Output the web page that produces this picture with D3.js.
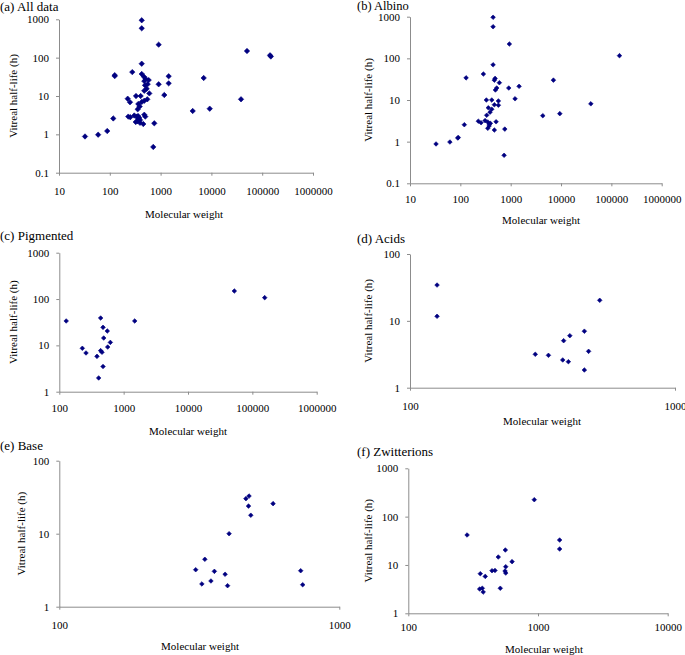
<!DOCTYPE html>
<html>
<head>
<meta charset="utf-8">
<script src="https://cdn.jsdelivr.net/npm/d3@7"></script>
<style>
  html, body { margin: 0; padding: 0; background: #fff; }
  svg { display: block; }
  text { font-family: "Liberation Serif", "Times New Roman", serif; fill: #000; }
</style>
</head>
<body>
<svg id="chart" width="685" height="655"></svg>
<script>
// ---------------- DATA ----------------
const panelTitles = ["(a) All data", "(b) Albino", "(c) Pigmented", "(d) Acids", "(e) Base", "(f) Zwitterions"];
const xAxisTitle = "Molecular weight";
const yAxisTitle = "Vitreal half-life (h)";

// (a) All data
const allMW = [32.5, 59, 89, 117, 125, 125, 277, 425, 425, 916, 425, 425, 471, 509, 583, 1442, 1442, 916, 493, 532, 477, 600, 1183, 328, 405, 225, 250, 547, 477, 425, 364, 387, 354, 231, 253, 303, 338, 364, 393, 324, 393, 456, 477, 500, 751, 717, 4285, 9270, 7050, 38300, 50200, 142600, 148000, 360, 380, 350, 478, 557];
const allHL = [0.88, 0.98, 1.22, 2.6, 33, 35, 42, 942, 582, 218, 69.5, 37.5, 31.8, 28, 26, 32.7, 21.4, 20.2, 19, 15.5, 13.7, 11.7, 10.6, 10, 10, 8.5, 6.9, 8.2, 7.5, 7.0, 6.2, 5.3, 4.5, 2.9, 2.8, 3.1, 2.9, 2.56, 2.37, 2.1, 2.0, 1.86, 3.25, 2.9, 1.94, 0.47, 4.07, 4.67, 29.5, 8.2, 149, 115, 107, 3.0, 2.7, 2.2, 24.5, 20.4];

// (b) Albino
const albMW = [32.9, 62, 89, 91, 120, 130, 287, 447, 447, 942, 447, 490, 474, 596, 1469, 916, 528, 497, 1222, 329, 421, 570, 570, 474, 360, 421, 389, 334, 228, 258, 310, 351, 373, 373, 351, 395, 513, 474, 764, 740, 4345, 9460, 7060, 39100, 145000];
const albHL = [0.88, 0.98, 1.22, 1.26, 2.55, 34, 42, 968, 575, 221, 70, 33, 30, 26, 21.3, 19.4, 19.4, 17.4, 10.7, 10, 10, 9.5, 7.5, 7.7, 6.5, 6.0, 5.1, 4.3, 3.1, 2.85, 3.2, 2.97, 2.65, 2.38, 2.09, 2.75, 3.0, 1.9, 2.0, 0.47, 4.2, 4.7, 30, 8.1, 116];

// (c) Pigmented
const pigMW = [128, 439, 1486, 478, 557, 490, 621, 565, 228, 260, 439, 461, 385, 478, 409, 52500, 155600];
const pigHL = [33.6, 38.9, 33.6, 24.5, 20.4, 14.4, 11.6, 9.2, 8.65, 6.85, 7.7, 7.1, 5.8, 3.5, 1.98, 149, 107];

// (d) Acids
const acidMW = [126.5, 126.5, 520, 455, 401, 380, 297, 333, 472, 377, 396, 455];
const acidHL = [34.3, 11.7, 20.3, 7.0, 6.0, 5.05, 3.16, 3.05, 3.5, 2.6, 2.45, 1.84];

// (e) Base
const baseMW = [476, 464, 474, 483, 580, 404, 331, 307, 358, 391, 323, 348, 399, 728, 740];
const baseHL = [32.8, 30.2, 23.9, 17.9, 25.8, 10, 4.46, 3.21, 3.05, 2.78, 2.05, 2.25, 1.94, 3.11, 2.0];

// (f) Zwitterions
const zwMW = [936, 284, 1468, 1468, 560, 494, 631, 564, 359, 392, 442, 466, 557, 564, 355, 372, 378, 512];
const zwHL = [224, 41.7, 32.8, 21.4, 20.4, 14.6, 11.7, 9.2, 6.6, 5.8, 7.6, 7.7, 7.5, 6.8, 3.18, 3.3, 2.75, 3.3];

// tick values
const xTicksA = [10, 100, 1000, 10000, 100000, 1000000];
const yTicksA = [0.1, 1, 10, 100, 1000];
const xTicksC = [100, 1000, 10000, 100000, 1000000];
const yTicksC = [1, 10, 100, 1000];
const xTicksD = [100, 1000];
const yTicksD = [1, 10, 100];
const xTicksF = [100, 1000, 10000];

// ---------------- LAYOUT ----------------
const panels = [
  { title: panelTitles[0], mw: allMW, hl: allHL, xt: xTicksA, yt: yTicksA,
    x0: 59, x1: 313, y0: 172.7, y1: 19.3, tx: 0, ty: 10.5, tfs: 13, ylx: 13, xlx: 184, xly: 218, xpad: 12, r: 2.7 },
  { title: panelTitles[1], mw: albMW, hl: albHL, xt: xTicksA, yt: yTicksA,
    x0: 410, x1: 661.7, y0: 183.3, y1: 16.7, tx: 357, ty: 10, tfs: 12.5, ylx: 368, xlx: 541, xly: 224, xpad: 9, r: 2.3 },
  { title: panelTitles[2], mw: pigMW, hl: pigHL, xt: xTicksC, yt: yTicksC,
    x0: 59.3, x1: 316.7, y0: 391.7, y1: 252.7, tx: 0, ty: 240, tfs: 13, ylx: 13, xlx: 188, xly: 435, xpad: 10, r: 2.3 },
  { title: panelTitles[3], mw: acidMW, hl: acidHL, xt: xTicksD, yt: yTicksD,
    x0: 410, x1: 675, y0: 387.7, y1: 254, tx: 357, ty: 243, tfs: 13, ylx: 368, xlx: 542, xly: 425, xpad: 12, r: 2.3 },
  { title: panelTitles[4], mw: baseMW, hl: baseHL, xt: xTicksD, yt: yTicksD,
    x0: 59.3, x1: 339.3, y0: 606.7, y1: 460.7, tx: 0, ty: 450, tfs: 13, ylx: 21, xlx: 200, xly: 650, xpad: 12, r: 2.3 },
  { title: panelTitles[5], mw: zwMW, hl: zwHL, xt: xTicksF, yt: yTicksC,
    x0: 408.3, x1: 667.7, y0: 613.3, y1: 468.3, tx: 357, ty: 456, tfs: 13, ylx: 368, xlx: 544, xly: 652.5, xpad: 7, r: 2.3 }
];

const svg = d3.select("#chart");
const axisColor = "#8c8c8c";
const markColor = "#000080";
const fmt = v => String(v);

panels.forEach(p => {
  const x = d3.scaleLog().domain([p.xt[0], p.xt[p.xt.length - 1]]).range([p.x0, p.x1]);
  const y = d3.scaleLog().domain([p.yt[0], p.yt[p.yt.length - 1]]).range([p.y0, p.y1]);
  const g = svg.append("g");

  // x axis
  const gx = g.append("g").attr("transform", `translate(0,${p.y0})`)
    .call(d3.axisBottom(x).tickValues(p.xt).tickFormat(fmt).tickSize(3).tickPadding(p.xpad).tickSizeOuter(0));
  // y axis
  const gy = g.append("g").attr("transform", `translate(${p.x0},0)`)
    .call(d3.axisLeft(y).tickValues(p.yt).tickFormat(fmt).tickSize(3).tickPadding(7).tickSizeOuter(0));

  [gx, gy].forEach(a => {
    a.select(".domain").attr("stroke", axisColor).attr("stroke-width", 1);
    a.selectAll(".tick line").attr("stroke", axisColor);
    a.selectAll(".tick text").attr("font-family", "Liberation Serif, serif").attr("font-size", 11).attr("fill", "#000");
  });

  // points
  const pts = p.mw.map((m, i) => [m, p.hl[i]]);
  g.append("g").selectAll("path").data(pts).join("path")
    .attr("transform", d => `translate(${x(d[0])},${y(d[1])})`)
    .attr("d", `M0,${-p.r}L${p.r},0L0,${p.r}L${-p.r},0Z`)
    .attr("fill", markColor)
    .attr("stroke", markColor)
    .attr("stroke-width", 0.6);

  // title
  g.append("text").attr("x", p.tx).attr("y", p.ty)
    .attr("font-size", p.tfs).text(p.title);

  // axis titles
  g.append("text").attr("x", p.xlx).attr("y", p.xly)
    .attr("text-anchor", "middle").attr("font-size", 11).text(xAxisTitle);
  g.append("text")
    .attr("transform", `translate(${p.ylx},${(p.y0 + p.y1) / 2}) rotate(-90)`)
    .attr("text-anchor", "middle").attr("dy", "0.35em").attr("font-size", 11).text(yAxisTitle);
});
</script>
</body>
</html>
